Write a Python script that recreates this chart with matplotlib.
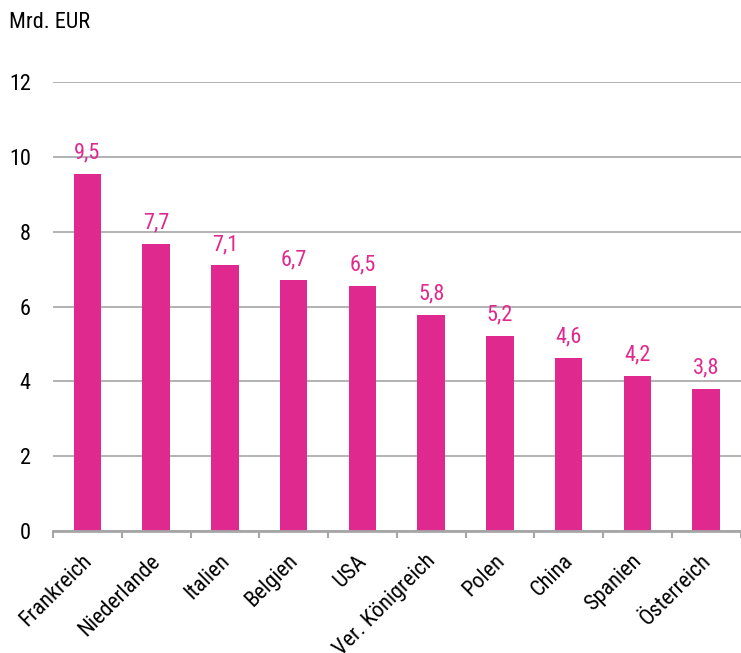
import matplotlib
matplotlib.use("Agg")
import matplotlib.pyplot as plt
import matplotlib.transforms as mtransforms
import numpy as np

countries = ["Frankreich", "Niederlande", "Italien", "Belgien", "USA",
             "Ver. Königreich", "Polen", "China", "Spanien", "Österreich"]
values = [9.55, 7.68, 7.1, 6.7, 6.55, 5.78, 5.22, 4.62, 4.15, 3.8]
labels = ["9,5", "7,7", "7,1", "6,7", "6,5", "5,8", "5,2", "4,6", "4,2", "3,8"]
yticks = [0, 2, 4, 6, 8, 10, 12]

plt.rcParams['font.family'] = ['Roboto Condensed', 'DejaVu Sans']
pink = "#E0298F"

fig = plt.figure(figsize=(7.41, 6.53), dpi=100)
ax = fig.add_axes([0.0715, 0.187, 0.928, 0.687])

x = np.arange(len(countries))
ax.bar(x, values, width=0.4, color=pink, zorder=3)
for xi, v, lab in zip(x, values, labels):
    ax.text(xi, v + 0.28, lab, ha="center", va="bottom", color=pink, fontsize=16)

ax.set_xlim(-0.5, len(countries) - 0.5)
ax.set_ylim(0, 12)
ax.set_yticks(yticks)
ax.set_yticklabels([str(t) for t in yticks], fontsize=16)
ax.yaxis.grid(True, color="#a6a6a6", linewidth=1.2, zorder=0)
ax.tick_params(axis="y", length=0, pad=16)

ax.set_xticks(x)
ax.set_xticklabels(countries, rotation=45, ha="right", rotation_mode="anchor", fontsize=16)
ax.set_xticks(np.arange(-0.5, len(countries)), minor=True)
ax.tick_params(axis="x", which="major", length=0, pad=12)
ax.tick_params(axis="x", which="minor", length=5, width=1.5, color="#a6a6a6")

# nudge rotated labels a bit left/down like the original
offset = mtransforms.ScaledTranslation(-6 / 100, -3 / 100, fig.dpi_scale_trans)
for t in ax.get_xticklabels():
    t.set_transform(t.get_transform() + offset)

for s in ["left", "right", "top"]:
    ax.spines[s].set_visible(False)
ax.spines["bottom"].set_color("#a6a6a6")
ax.spines["bottom"].set_linewidth(2)
ax.spines["bottom"].set_zorder(4)

fig.text(0.012, 0.965, "Mrd. EUR", fontsize=16, va="center", ha="left")

fig.savefig("out.png", dpi=100)
